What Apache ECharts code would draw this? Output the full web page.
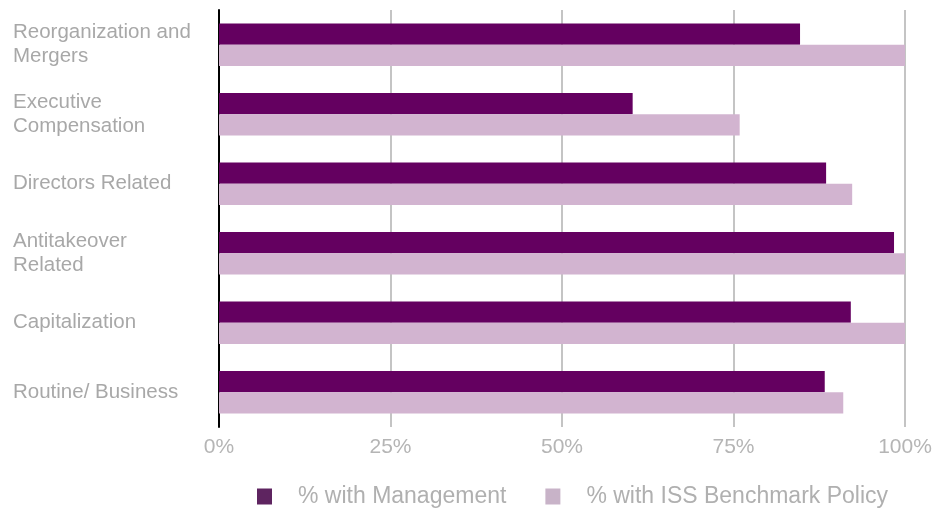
<!DOCTYPE html>
<html>
<head>
<meta charset="utf-8">
<script src="https://cdn.jsdelivr.net/npm/echarts@6/dist/echarts.min.js"></script>
<style>
  html, body { margin: 0; padding: 0; background: #fff; }
  #chart { width: 946px; height: 508px; }
</style>
</head>
<body>
<div id="chart"></div>
<script>
// categories, top to bottom
var categories = [
  "Reorganization and\nMergers",
  "Executive\nCompensation",
  "Directors Related",
  "Antitakeover\nRelated",
  "Capitalization",
  "Routine/ Business"
];
var withManagement = [84.7, 60.3, 88.5, 98.4, 92.1, 88.3];
var withIss = [100, 75.9, 92.3, 100, 100, 91.0];
var xTicks = [0, 25, 50, 75, 100];

var chart = echarts.init(document.getElementById("chart"));

var option = {
  animation: false,
  grid: {
    left: 219,
    right: 41,
    top: 10,
    bottom: 81
  },
  legend: {
    left: 252,
    top: 480,
    itemWidth: 15,
    itemHeight: 16,
    itemGap: 39,
    icon: "rect",
    textStyle: {
      fontFamily: "Liberation Sans",
      fontSize: 23,
      color: "#b0b0b0",
      padding: [0, 0, 0, 21]
    },
    data: [
      { name: "% with Management", itemStyle: { color: "#5e2460" } },
      { name: "% with ISS Benchmark Policy", itemStyle: { color: "#c8b3c8" } }
    ]
  },
  xAxis: {
    type: "value",
    min: 0,
    max: 100,
    interval: 25,
    axisLine: { show: false },
    axisTick: { show: false },
    axisLabel: {
      margin: 10,
      fontFamily: "Liberation Sans",
      fontSize: 21,
      color: "#b5b5b5",
      formatter: function (v) {
        return xTicks.indexOf(v) >= 0 ? v + "%" : "";
      }
    },
    splitLine: {
      lineStyle: { color: "#c4c4c4", width: 2 }
    }
  },
  yAxis: {
    type: "category",
    inverse: true,
    data: categories,
    axisLine: {
      lineStyle: { color: "#000", width: 2 }
    },
    axisTick: { show: false },
    axisLabel: {
      align: "left",
      margin: 206,
      fontFamily: "Liberation Sans",
      fontSize: 20.5,
      lineHeight: 24,
      padding: [5, 0, 0, 0],
      color: "#a8a8a8"
    }
  },
  series: [
    {
      name: "% with Management",
      type: "bar",
      data: withManagement,
      barGap: "0%",
      barCategoryGap: "39%",
      itemStyle: { color: "#640060" }
    },
    {
      name: "% with ISS Benchmark Policy",
      type: "bar",
      data: withIss,
      itemStyle: { color: "#d2b4d0" }
    }
  ]
};

chart.setOption(option);
</script>
</body>
</html>
